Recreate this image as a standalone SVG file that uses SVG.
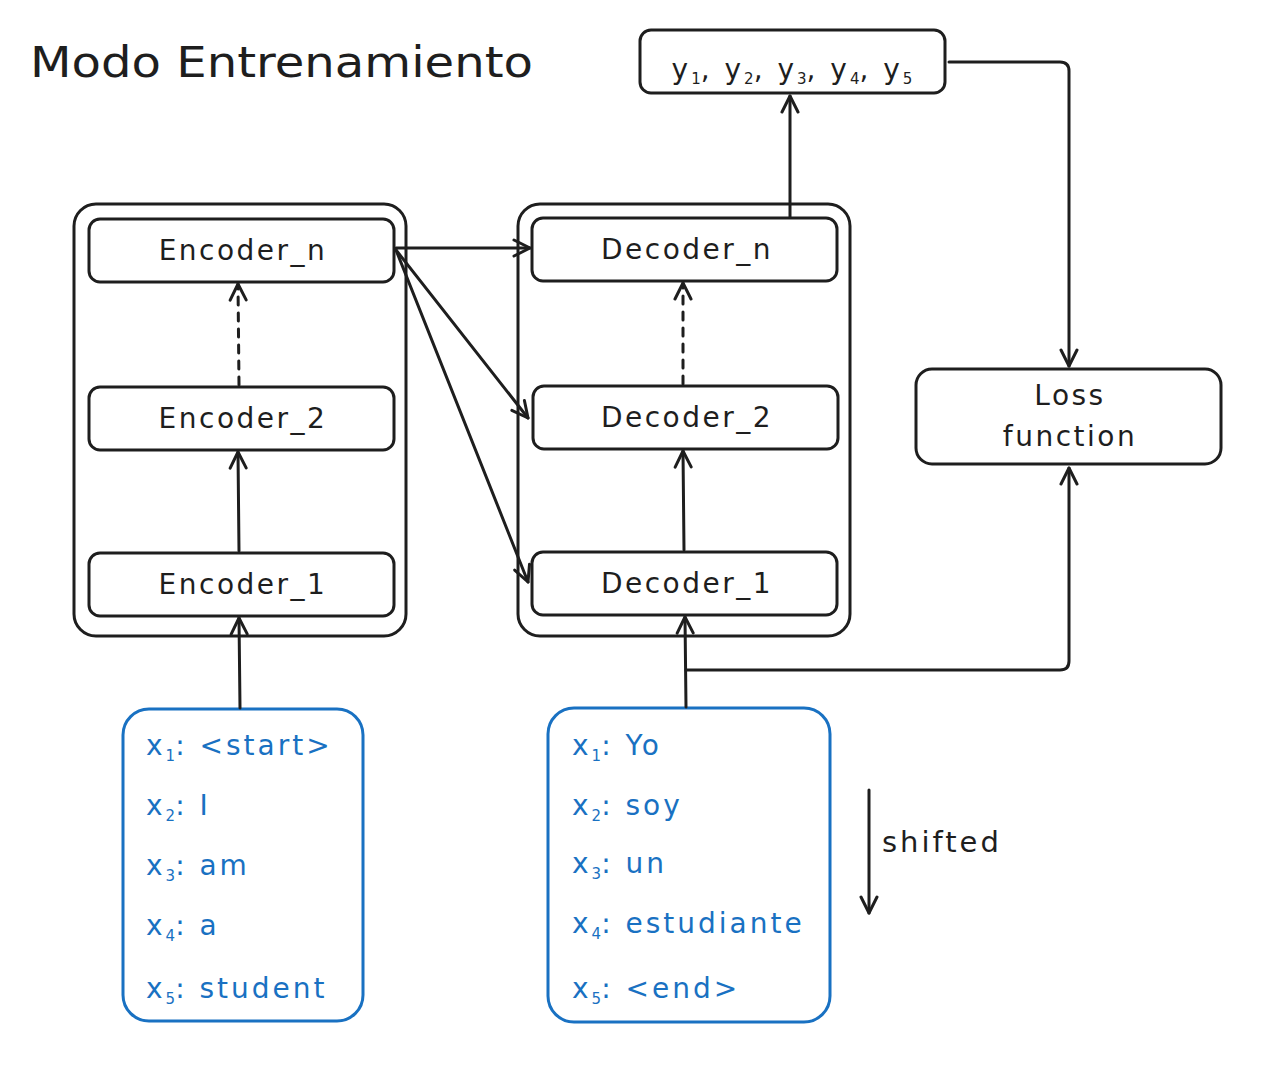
<svg xmlns="http://www.w3.org/2000/svg" width="1278" height="1068" viewBox="0 0 1278 1068">
<style>
.box{fill:#fff;stroke:#1e1e1e;stroke-width:3}
.blue{fill:#fff;stroke:#1971c2;stroke-width:3}
.lbl{font-family:"DejaVu Sans",Verdana,sans-serif;font-size:28px;fill:#1e1e1e;text-anchor:middle;letter-spacing:2.5px}
.btx{font-family:"DejaVu Sans",Verdana,sans-serif;font-size:28px;fill:#1971c2;letter-spacing:3px}
.sub{font-size:15px;letter-spacing:0}
.con{fill:none;stroke:#1e1e1e;stroke-width:3;stroke-linecap:round;stroke-linejoin:round}
.dash{stroke-dasharray:8 8}
</style>
<defs>
<marker id="ah" viewBox="0 0 20 20" refX="18" refY="10" markerWidth="20" markerHeight="20" markerUnits="userSpaceOnUse" orient="auto">
<path d="M2,2 L18,10 L2,18" fill="none" stroke="#1e1e1e" stroke-width="3" stroke-linecap="round" stroke-linejoin="round"/>
</marker>
</defs>
<rect width="1278" height="1068" fill="#fff"/>
<text x="30" y="77" font-family="DejaVu Sans,Verdana,sans-serif" font-size="42" fill="#1e1e1e" textLength="503" lengthAdjust="spacingAndGlyphs">Modo Entrenamiento</text>

<g id="encoder-stack"><rect class="box" x="74" y="204" width="332" height="432" rx="22"/></g>
<g id="decoder-stack"><rect class="box" x="518" y="204" width="332" height="432" rx="22"/></g>

<g id="encoder_n"><rect class="box" x="89" y="219" width="305" height="63" rx="11"/><text class="lbl" x="243" y="260">Encoder_n</text></g>
<g id="encoder_2"><rect class="box" x="89" y="387" width="305" height="63" rx="11"/><text class="lbl" x="243" y="428">Encoder_2</text></g>
<g id="encoder_1"><rect class="box" x="89" y="553" width="305" height="63" rx="11"/><text class="lbl" x="243" y="594">Encoder_1</text></g>

<g id="decoder_n"><rect class="box" x="532" y="218" width="305" height="63" rx="11"/><text class="lbl" x="687" y="259">Decoder_n</text></g>
<g id="decoder_2"><rect class="box" x="533" y="386" width="305" height="63" rx="11"/><text class="lbl" x="687" y="427">Decoder_2</text></g>
<g id="decoder_1"><rect class="box" x="532" y="552" width="305" height="63" rx="11"/><text class="lbl" x="687" y="593">Decoder_1</text></g>

<g id="outputs"><rect class="box" x="640" y="30" width="305" height="63" rx="11"/>
<text class="lbl" x="792" y="79" style="letter-spacing:3px">y<tspan class="sub" dy="5">1</tspan><tspan dy="-5">, y</tspan><tspan class="sub" dy="5">2</tspan><tspan dy="-5">, y</tspan><tspan class="sub" dy="5">3</tspan><tspan dy="-5">, y</tspan><tspan class="sub" dy="5">4</tspan><tspan dy="-5">, y</tspan><tspan class="sub" dy="5">5</tspan></text></g>

<g id="loss"><rect class="box" x="916" y="369" width="305" height="95" rx="16"/>
<text class="lbl" x="1070" y="405">Loss</text><text class="lbl" x="1070" y="446">function</text></g>

<g id="encoder-input"><rect class="blue" x="123" y="709" width="240" height="312" rx="26"/>
<text class="btx" x="146" y="755">x<tspan class="sub" dy="6">1</tspan><tspan dy="-6">: &lt;start&gt;</tspan></text>
<text class="btx" x="146" y="815">x<tspan class="sub" dy="6">2</tspan><tspan dy="-6">: I</tspan></text>
<text class="btx" x="146" y="875">x<tspan class="sub" dy="6">3</tspan><tspan dy="-6">: am</tspan></text>
<text class="btx" x="146" y="935">x<tspan class="sub" dy="6">4</tspan><tspan dy="-6">: a</tspan></text>
<text class="btx" x="146" y="998">x<tspan class="sub" dy="6">5</tspan><tspan dy="-6">: student</tspan></text>
</g>

<g id="decoder-input"><rect class="blue" x="548" y="708" width="282" height="314" rx="26"/>
<text class="btx" x="572" y="755">x<tspan class="sub" dy="6">1</tspan><tspan dy="-6">: Yo</tspan></text>
<text class="btx" x="572" y="815">x<tspan class="sub" dy="6">2</tspan><tspan dy="-6">: soy</tspan></text>
<text class="btx" x="572" y="873">x<tspan class="sub" dy="6">3</tspan><tspan dy="-6">: un</tspan></text>
<text class="btx" x="572" y="933">x<tspan class="sub" dy="6">4</tspan><tspan dy="-6">: estudiante</tspan></text>
<text class="btx" x="572" y="998">x<tspan class="sub" dy="6">5</tspan><tspan dy="-6">: &lt;end&gt;</tspan></text>
</g>

<g id="shifted-label"><text x="882" y="852" font-family="DejaVu Sans,Verdana,sans-serif" font-size="29" letter-spacing="3" fill="#1e1e1e">shifted</text></g>

<g id="connectors">
<path class="con" d="M240,708 L239,618" marker-end="url(#ah)"/>
<path class="con" d="M239,551 L238,452" marker-end="url(#ah)"/>
<path class="con dash" d="M239,385 L238,284" marker-end="url(#ah)"/>
<path class="con" d="M396,248 L530,248" marker-end="url(#ah)"/>
<path class="con" d="M396,250 L528,418" marker-end="url(#ah)"/>
<path class="con" d="M396,250 L528,582" marker-end="url(#ah)"/>
<path class="con" d="M684,550 L683,451" marker-end="url(#ah)"/>
<path class="con dash" d="M683,384 L683,283" marker-end="url(#ah)"/>
<path class="con" d="M790,217 L790,96" marker-end="url(#ah)"/>
<path class="con" d="M949,62 L1060,62 Q1069,62 1069,71 L1069,366" marker-end="url(#ah)"/>
<path class="con" d="M686,707 L685,617" marker-end="url(#ah)"/>
<path class="con" d="M686,670 L1060,670 Q1069,670 1069,661 L1069,468" marker-end="url(#ah)"/>
<path class="con" d="M869,790 L869,913" marker-end="url(#ah)"/>
</g>
</svg>
